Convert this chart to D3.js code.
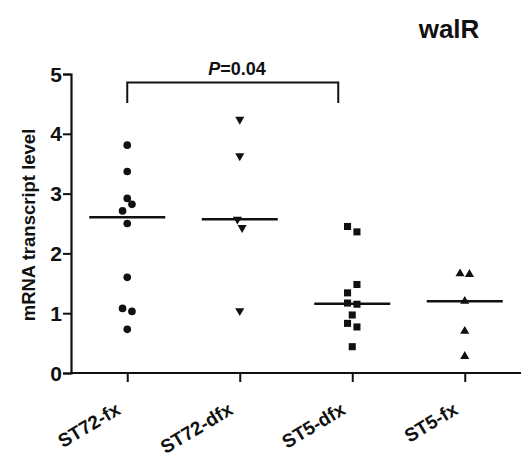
<!DOCTYPE html>
<html>
<head>
<meta charset="utf-8">
<script src="https://cdn.jsdelivr.net/npm/d3@7"></script>
<style>
  body { margin: 0; background: #fff; }
  text { font-family: "Liberation Sans", Arial, sans-serif; font-weight: bold; fill: #111; }
</style>
</head>
<body>
<svg id="chart" width="526" height="472"></svg>
<script>
// groups on the x axis
var groups = ["ST72-fx", "ST72-dfx", "ST5-dfx", "ST5-fx"];
var shapes = ["circle", "triangleDown", "square", "triangleUp"];

// mRNA values, [value, jitter slot]
var st72fx = [[3.81, 0], [3.37, 0], [2.92, 0], [2.82, 1], [2.71, -1], [2.5, 0], [1.6, 0], [1.08, -1], [1.03, 1], [0.73, 0]];
var st72dfx = [[4.24, 0], [3.63, 0], [2.57, -0.5], [2.43, 0.5], [1.04, 0]];
var st5dfx = [[2.45, -1], [2.36, 1], [1.48, 1], [1.34, -1], [1.17, -1], [1.15, 1], [0.97, 0], [0.83, -1], [0.77, 1], [0.44, 0]];
var st5fx = [[1.66, -1], [1.65, 1], [1.2, 0], [0.7, 0], [0.28, 0]];
var seriesValues = [st72fx, st72dfx, st5dfx, st5fx];

var yTicks = [0, 1, 2, 3, 4, 5];
var pLabel = "=0.04";

var svg = d3.select("#chart");

var x = d3.scalePoint().domain(groups).range([71, 521]).padding(0.5);
var y = d3.scaleLinear().domain([0, 5]).range([373, 74]);

// y axis
var yAxis = svg.append("g").attr("transform", "translate(71,0)")
    .call(d3.axisLeft(y).tickValues(yTicks).tickFormat(d3.format("d")).tickSize(8).tickPadding(1));
yAxis.select(".domain").attr("stroke", "#111").attr("stroke-width", 2.2);
yAxis.selectAll(".tick line").attr("stroke", "#111").attr("stroke-width", 2);
yAxis.selectAll(".tick text").style("font-size", "21px").style("font-family", "Liberation Sans, Arial, sans-serif")
    .style("font-weight", "bold").attr("fill", "#111").attr("dy", "0.34em");

// x axis
var xAxis = svg.append("g").attr("transform", "translate(0,373)")
    .call(d3.axisBottom(x).tickSizeOuter(0).tickSize(9));
xAxis.select(".domain").attr("stroke", "#111").attr("stroke-width", 2.2).attr("d", "M70,0H521");
xAxis.selectAll(".tick line").attr("stroke", "#111").attr("stroke-width", 2);
xAxis.selectAll(".tick text")
    .style("font-size", "19px").style("font-family", "Liberation Sans, Arial, sans-serif")
    .style("font-weight", "bold").attr("fill", "#111")
    .attr("text-anchor", "end")
    .attr("dy", 0).attr("y", 0)
    .attr("transform", "translate(-6,40) rotate(-31)");

// y label
svg.append("text")
    .attr("transform", "translate(35,225) rotate(-90)")
    .attr("text-anchor", "middle")
    .style("font-size", "18.5px")
    .text("mRNA transcript level");

// title
svg.append("text").attr("x", 449).attr("y", 38).attr("text-anchor", "middle")
    .style("font-size", "26px").text("walR");

var symbolTypes = {
    circle: d3.symbolCircle,
    square: d3.symbolSquare,
    triangleUp: d3.symbolTriangle,
    triangleDown: d3.symbolTriangle
};
var symbolSizes = { circle: 46, square: 50, triangleUp: 36, triangleDown: 36 };

groups.forEach(function(g, i) {
    var vals = seriesValues[i];
    var shape = shapes[i];
    var sym = d3.symbol().type(symbolTypes[shape]).size(symbolSizes[shape]);
    svg.append("g").selectAll("path").data(vals).enter().append("path")
        .attr("d", sym)
        .attr("fill", "#111")
        .attr("transform", function(d) {
            var t = "translate(" + (x(g) + d[1] * 4.7) + "," + y(d[0]) + ")";
            if (shape == "triangleDown") t += " rotate(180)";
            return t;
        });

    // median line
    var med = d3.median(vals, function(d) { return d[0]; });
    svg.append("line")
        .attr("x1", x(g) - 38).attr("x2", x(g) + 38)
        .attr("y1", y(med)).attr("y2", y(med))
        .attr("stroke", "#111").attr("stroke-width", 2.5);
});

// significance bracket
var bx1 = x(groups[0]), bx2 = x(groups[2]) - 14;
svg.append("path")
    .attr("d", "M" + bx1 + ",103V82.5H" + bx2 + "V103")
    .attr("fill", "none").attr("stroke", "#111").attr("stroke-width", 2);

var pt = svg.append("text").attr("x", 237).attr("y", 75).attr("text-anchor", "middle")
    .style("font-size", "18px");
pt.append("tspan").style("font-style", "italic").text("P");
pt.append("tspan").text(pLabel);
</script>
</body>
</html>
